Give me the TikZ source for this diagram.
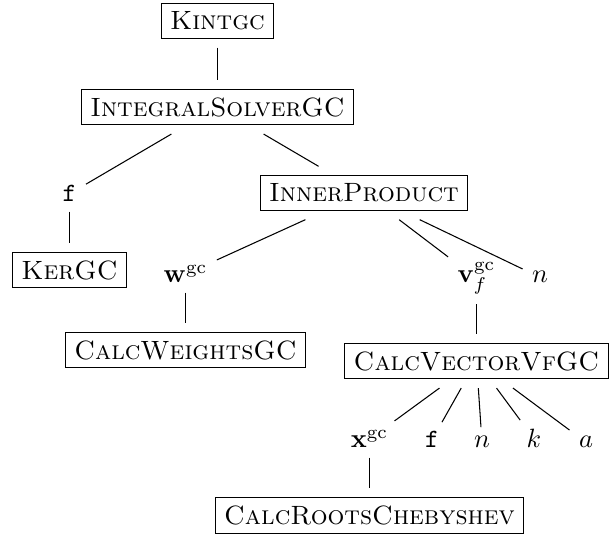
\documentclass[tikz,border=0pt]{standalone}
\begin{document}
\begin{tikzpicture}[x=0.378pt,y=-0.378pt,
  box/.style={draw, line width=0.4pt, inner xsep=3.33pt, inner ysep=3.0pt, outer sep=3.6pt},
  lab/.style={inner sep=0pt, outer sep=3.6pt, anchor=base},
  edge/.style={line width=0.4pt}]
\useasboundingbox (0,0) rectangle (614,534);
% level 0-1
\node[box] (kint) at (217.5,21) {\textsc{Kintgc}};
\node[box] (isgc) at (217.5,107) {\textsc{IntegralSolverGC}};
% level 2
\node[lab] (f1) at (69.5,202) {\texttt{f}};
\node[box] (ip) at (364,193) {\textsc{InnerProduct}};
% level 3
\node[box] (ker) at (69.5,270) {\textsc{KerGC}};
\node[lab] (w) at (185.5,283) {$\mathbf{w}^{\mathrm{gc}}$};
\node[lab] (v) at (476.5,283) {$\mathbf{v}_f^{\mathrm{gc}}$};
\node[lab] (n1) at (540,283) {$n$};
% level 4
\node[box] (cw) at (185.5,350) {\textsc{CalcWeightsGC}};
\node[box] (cvv) at (476.5,361) {\textsc{CalcVectorVfGC}};
% level 5
\node[lab] (x) at (369.5,448) {$\mathbf{x}^{\mathrm{gc}}$};
\node[lab] (f2) at (432,448) {\texttt{f}};
\node[lab] (n2) at (482,448) {$n$};
\node[lab] (k) at (534,448) {$k$};
\node[lab] (a) at (586,448) {$a$};
% level 6
\node[box] (cr) at (369.5,515.5) {\textsc{CalcRootsChebyshev}};
% edges
\draw[edge] (kint) -- (isgc);
\draw[edge] (isgc) -- (f1);
\draw[edge] (isgc) -- (ip);
\draw[edge] (f1) -- (ker);
\draw[edge] (ip) -- (w);
\draw[edge] (ip) -- (v);
\draw[edge] (ip) -- (n1);
\draw[edge] (w) -- (cw);
\draw[edge] (v) -- (cvv);
\draw[edge] (cvv) -- (x);
\draw[edge] (cvv) -- (f2);
\draw[edge] (cvv) -- (n2);
\draw[edge] (cvv) -- (k);
\draw[edge] (cvv) -- (a);
\draw[edge] (x) -- (cr);
\end{tikzpicture}
\end{document}
